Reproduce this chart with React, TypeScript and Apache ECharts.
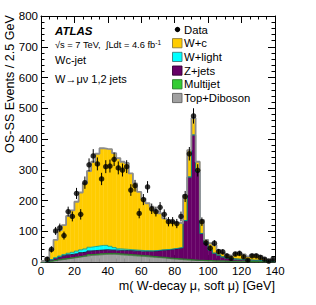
import React, { useEffect, useRef } from "react";
import * as echarts from "echarts";

// Bin lower edges (GeV), 2.5 GeV bins from 0 to 140
const binLow: number[] = [
  0, 2.5, 5, 7.5, 10, 12.5, 15, 17.5, 20, 22.5, 25, 27.5, 30, 32.5, 35, 37.5, 40, 42.5, 45, 47.5,
  50, 52.5, 55, 57.5, 60, 62.5, 65, 67.5, 70, 72.5, 75, 77.5, 80, 82.5, 85, 87.5, 90, 92.5, 95, 97.5,
  100, 102.5, 105, 107.5, 110, 112.5, 115, 117.5, 120, 122.5, 125, 127.5, 130, 132.5, 135, 137.5,
];
const BIN_W = 2.5;

// Stack components (events per bin), bottom to top
const topDiboson: number[] = [
  0.5, 1.5, 3, 5, 7, 9, 11, 13, 15, 17, 19, 21, 22, 23, 24, 25, 25, 25, 24, 23,
  22, 21, 20, 19, 18, 17, 16, 15, 14, 13, 11, 10, 9, 8, 7, 6, 6, 5, 5, 4,
  4, 3, 3, 3, 2, 2, 2, 2, 2, 1, 1, 1, 1, 1, 1, 1,
];
const multijet: number[] = [
  0.3, 0.5, 1, 1, 1.5, 1.5, 1.5, 1.5, 1.5, 1.5, 1.5, 3, 3, 3, 3, 3, 3, 3, 3, 3,
  3, 3, 3, 3, 3, 3, 2, 2, 2, 2, 2, 2, 2, 2, 2, 2, 0.5, 0.5, 0.5, 0.5,
  0.5, 0.5, 0.5, 0.5, 0.5, 0.5, 0.5, 0.5, 0.5, 0.5, 0.5, 0.5, 0.5, 0.5, 0.5, 0.5,
];
const zJets: number[] = [
  0.5, 1, 3, 6, 8, 10, 11, 11, 11, 12, 12, 12, 12, 12, 12, 12, 11, 11, 11, 12,
  12, 13, 13, 14, 14, 15, 17, 19, 22, 24, 27, 30, 33, 36, 125, 268, 406, 288, 87, 58,
  34, 25, 19, 13, 10, 8, 7, 6, 5, 5, 4, 4, 3, 3, 2, 2,
];
const wLight: number[] = [
  0, 0.5, 1, 2, 3, 4, 5, 6, 8, 9, 10, 12, 13, 14, 15, 14, 12, 8, 5, 4,
  4, 3, 3, 2, 2, 2, 1.5, 1.5, 1, 1, 1, 1, 1, 1, 1, 1, 1, 0.5, 0.5, 0.5,
  0.5, 0.5, 0.5, 0.5, 0.5, 0.3, 0.3, 0.3, 0.3, 0.3, 0.3, 0.3, 0.3, 0.3, 0.3, 0.3,
];
const wc: number[] = [
  2, 9.5, 32, 58, 84.5, 95.5, 121.5, 136.5, 160.5, 186.5, 213.5, 248, 276, 300, 316, 314, 316, 307, 295, 284,
  281, 248, 217, 190, 170, 154, 143.5, 129.5, 119, 102, 96, 88, 83, 79, 83, 87, 54.5, 32, 44, 9,
  22, 26, 16, 13, 9, 9.2, 18.2, 21.2, 17.2, 11.2, 18.2, 18.2, 15.2, 7.2, 4.2, 2.2,
];

// Data (OS-SS) and its uncertainty
const dataVals: (number | null)[] = [
  null, 9, 41, 101, 111, 86, 164, 148, 223, 155, 258, 316, 345, 319, 270, 310, 312, 334, 306, 299,
  310, 234, 248, 158, 203, 244, 173, 164, 178, 155, 131, 131, 125, 148, 213, 352, 475, 298, 131, 62,
  45, 61, 34, 33, 20, 12, 26, 28, 17, 6, 20, 20, 15, 9, 3, 9,
];
const dataErr: number[] = [
  0, 8, 10, 13, 14, 13, 16, 16, 18, 17, 20, 21, 22, 21, 20, 21, 21, 22, 21, 21,
  21, 19, 19, 16, 18, 19, 17, 16, 17, 16, 15, 15, 15, 16, 18, 22, 25, 20, 14, 10,
  9, 10, 8, 8, 7, 6, 7, 7, 6, 5, 6, 6, 6, 5, 4, 5,
];

const xTicks = { min: 0, max: 140, interval: 20 };
const yTicks = { min: 0, max: 800, interval: 100 };

const FONT = '"Liberation Sans", Arial, Helvetica, sans-serif';

const components = [
  { name: "Top+Diboson", values: topDiboson, fill: "#a0a0a0", edge: "#606060" },
  { name: "Multijet", values: multijet, fill: "#33cc33", edge: "#1a8c1a" },
  { name: "Z+jets", values: zJets, fill: "#660066", edge: "#2a002a" },
  { name: "W+light", values: wLight, fill: "#00ffff", edge: "#009a9a" },
  { name: "W+c", values: wc, fill: "#ffcc00", edge: "#b38f00" },
];

export default function App() {
  const ref = useRef<HTMLDivElement>(null);
  useEffect(() => {
    if (!ref.current) return;
    const chart = echarts.init(ref.current, undefined, { renderer: "svg" });

    const cum: number[] = binLow.map(() => 0);
    const series: any[] = [];
    const edgeLines: any[] = [];
    components.forEach((c, ci) => {
      const items = binLow.map((lo, i) => {
        const b = cum[i];
        const t = b + c.values[i];
        cum[i] = t;
        return [lo, lo + BIN_W, b, t];
      });
      series.push({
        type: "custom",
        name: c.name,
        z: 2 + ci * 0.01,
        encode: { x: [0, 1], y: [2, 3] },
        data: items,
        renderItem: (_p: any, api: any) => {
          const p0 = api.coord([api.value(0), api.value(3)]);
          const p1 = api.coord([api.value(1), api.value(2)]);
          return {
            type: "rect",
            shape: { x: p0[0], y: p0[1], width: p1[0] - p0[0], height: p1[1] - p0[1] },
            style: { fill: c.fill, stroke: c.fill, lineWidth: 0.4 },
          };
        },
      });
      const stepData = binLow.map((lo, i) => [lo, cum[i]]);
      stepData.push([140, cum[cum.length - 1]]);
      edgeLines.push({
        type: "line",
        step: "end",
        z: 3,
        symbol: "none",
        silent: true,
        data: stepData,
        lineStyle: {
          color: ci === 4 ? "#8c8c8c" : c.edge,
          width: ci === 4 ? 1.8 : 0.8,
        },
      });
    });

    const errItems = binLow
      .map((lo, i) => (dataVals[i] == null ? null : [lo + BIN_W / 2, (dataVals[i] as number) - dataErr[i], (dataVals[i] as number) + dataErr[i]]))
      .filter((d) => d !== null);
    const pts = binLow
      .map((lo, i) => (dataVals[i] == null ? null : [lo + BIN_W / 2, dataVals[i]]))
      .filter((d) => d !== null);

    const legendRows = [
      { label: "W+c", fill: "#ffcc00", stroke: "#8a7a3a" },
      { label: "W+light", fill: "#00ffff", stroke: "#3a7a7a" },
      { label: "Z+jets", fill: "#660066", stroke: "#330033" },
      { label: "Multijet", fill: "#33cc33", stroke: "#2a7a2a" },
      { label: "Top+Diboson", fill: "#a0a0a0", stroke: "#606060" },
    ];
    const legendY0 = 29.5;
    const legendDy = 13.7;
    const graphics: any[] = [
      { type: "circle", shape: { cx: 177.5, cy: legendY0, r: 2.7 }, style: { fill: "#000" }, z: 10 },
      {
        type: "text", x: 184, y: legendY0, z: 10,
        style: { text: "Data", fontSize: 11.3, fontFamily: FONT, fill: "#000", verticalAlign: "middle", align: "left" },
      },
    ];
    legendRows.forEach((r, k) => {
      const cy = legendY0 + (k + 1) * legendDy;
      graphics.push({
        type: "rect", z: 10,
        shape: { x: 172.5, y: cy - 4.6, width: 9.5, height: 9.2 },
        style: { fill: r.fill, stroke: r.stroke, lineWidth: 0.9 },
      });
      graphics.push({
        type: "text", x: 184, y: cy, z: 10,
        style: { text: r.label, fontSize: 11.3, fontFamily: FONT, fill: "#000", verticalAlign: "middle", align: "left" },
      });
    });
    graphics.push(
      {
        type: "text", x: 55, y: 31, z: 10,
        style: { text: "ATLAS", fontSize: 11.5, fontWeight: "bold", fontStyle: "italic", fontFamily: FONT, fill: "#000", verticalAlign: "middle" },
      },
      {
        type: "text", x: 55, y: 45, z: 10,
        style: {
          text: "√s = 7 TeV,  ∫Ldt = 4.6 fb{sup|-1}",
          fontSize: 9.3, fontFamily: FONT, fill: "#000", verticalAlign: "middle",
          rich: { sup: { fontSize: 6.5, fontFamily: FONT, verticalAlign: "top", padding: [0, 0, 5, 0] } },
        },
      },
      {
        type: "text", x: 55, y: 60, z: 10,
        style: { text: "Wc-jet", fontSize: 11, fontFamily: FONT, fill: "#000", verticalAlign: "middle" },
      },
      {
        type: "text", x: 55, y: 79, z: 10,
        style: { text: "W→μν 1,2 jets", fontSize: 11, fontFamily: FONT, fill: "#000", verticalAlign: "middle" },
      },
      {
        type: "text", x: 10, y: 15, rotation: Math.PI / 2, z: 10,
        style: { text: "OS-SS Events / 2.5 GeV", fontSize: 12.6, fontFamily: FONT, fill: "#000", align: "right", verticalAlign: "middle" },
      },
      {
        type: "text", x: 275, y: 286, z: 10,
        style: { text: "m( W-decay μ, soft μ) [GeV]", fontSize: 12.6, fontFamily: FONT, fill: "#000", align: "right", verticalAlign: "middle" },
      }
    );

    const axisCommon = {
      axisLine: { show: true, onZero: false, lineStyle: { color: "#000", width: 1 } },
      axisTick: { show: true, inside: true, length: 7, lineStyle: { color: "#000", width: 1 } },
      minorTick: { show: true, length: 3.5, lineStyle: { color: "#000", width: 1 } },
      splitLine: { show: false },
    };

    chart.setOption({
      animation: false,
      backgroundColor: "#fff",
      grid: { left: 41, right: 41, top: 16, bottom: 43, containLabel: false },
      xAxis: [
        {
          type: "value", position: "bottom", ...xTicks, ...axisCommon,
          minorTick: { ...axisCommon.minorTick, splitNumber: 4 },
          axisLabel: { show: true, color: "#000", fontSize: 11.5, fontFamily: FONT, margin: 3 },
        },
        {
          type: "value", position: "top", ...xTicks, ...axisCommon,
          minorTick: { ...axisCommon.minorTick, splitNumber: 4 },
          axisLabel: { show: false },
        },
      ],
      yAxis: [
        {
          type: "value", position: "left", ...yTicks, ...axisCommon,
          minorTick: { ...axisCommon.minorTick, splitNumber: 5 },
          axisLabel: { show: true, color: "#000", fontSize: 11.5, fontFamily: FONT, margin: 3 },
        },
        {
          type: "value", position: "right", ...yTicks, ...axisCommon,
          minorTick: { ...axisCommon.minorTick, splitNumber: 5 },
          axisLabel: { show: false },
        },
      ],
      series: [
        ...series,
        ...edgeLines,
        {
          type: "custom",
          name: "DataErr",
          z: 5,
          encode: { x: 0, y: [1, 2] },
          data: errItems,
          renderItem: (_p: any, api: any) => {
            const a = api.coord([api.value(0), api.value(1)]);
            const b = api.coord([api.value(0), api.value(2)]);
            return { type: "line", shape: { x1: a[0], y1: a[1], x2: b[0], y2: b[1] }, style: { stroke: "#000", lineWidth: 1 } };
          },
        },
        {
          type: "scatter",
          name: "Data",
          z: 6,
          symbol: "circle",
          symbolSize: 5.5,
          itemStyle: { color: "#000" },
          data: pts,
        },
      ],
      graphic: graphics,
    });
    return () => chart.dispose();
  }, []);
  return <div ref={ref} style={{ position: "absolute", left: 0, top: 0, width: 316, height: 305 }} />;
}
